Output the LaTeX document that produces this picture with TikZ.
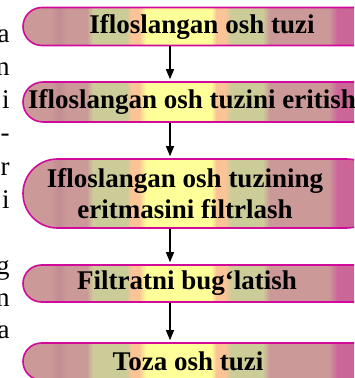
\documentclass[tikz,border=0pt]{standalone}
\usepackage{fontspec}
\setmainfont{Liberation Serif}
\usetikzlibrary{shapes.misc,arrows.meta}

\definecolor{boxrim}{RGB}{210,10,155}
\definecolor{mauve}{RGB}{204,153,153}
\definecolor{mauvedark}{RGB}{194,140,146}
\definecolor{sage}{RGB}{204,204,153}
\definecolor{peach}{RGB}{250,196,150}
\definecolor{lemon}{RGB}{255,255,153}
\definecolor{berry}{RGB}{204,102,153}

\pgfdeclarehorizontalshading{stripes}{100bp}{color(0bp)=(mauve); color(25bp)=(mauve);
 color(28.9bp)=(mauve); color(30bp)=(mauvedark); color(31.2bp)=(mauve);
 color(33.9bp)=(mauve); color(34.8bp)=(sage); color(39.5bp)=(sage);
 color(40.1bp)=(peach); color(41.2bp)=(peach); color(42.2bp)=(lemon);
 color(51.3bp)=(lemon); color(52bp)=(peach); color(53.2bp)=(peach);
 color(54.1bp)=(sage); color(58.5bp)=(sage); color(59.4bp)=(mauve);
 color(67.7bp)=(mauve); color(68.9bp)=(berry); color(100bp)=(berry)}

\tikzset{
 flowbox/.style={rounded rectangle,draw=boxrim,line width=0.8pt,shade,shading=stripes,
  minimum width=179pt,inner sep=0pt},
 flowtext/.style={font=\fontsize{13.5}{15.5}\selectfont\bfseries,align=center,inner sep=0pt},
 margintext/.style={font=\fontsize{13.5}{16}\selectfont,anchor=base east,inner sep=0pt},
 flowarrow/.style={-{Triangle[length=5pt,width=4pt]},line width=0.6pt,shorten >=1pt}
}

\begin{document}
\begin{tikzpicture}[x=0.5pt,y=-0.5pt]
\useasboundingbox (0,0) rectangle (354,378);
\clip (0,0) rectangle (354,378);
% cut-off letters of the page text on the left
\foreach \ch/\yb [count=\i] in {a/43,n/76,i/109,-/142,r/176,i/209,g/274,n/306,a/338}
  \node[margintext] (m\i) at (10,\yb) {\ch};
% boxes
\node[flowbox,minimum height=19pt] (b1) at (202,26.5) {};
\node[flowbox,minimum height=20pt] (b2) at (202,102) {};
\node[flowbox,minimum height=34.5pt] (b3) at (202,193.5) {};
\node[flowbox,minimum height=18.5pt] (b4) at (202,283.5) {};
\node[flowbox,minimum height=18.5pt] (b5) at (202,361.5) {};
\node[flowtext] (t1) at (202,26.5) {Ifloslangan osh tuzi};
\node[flowtext] (t2) at (192,102) {Ifloslangan osh tuzini eritish};
\node[flowtext] (t3) at (185,193.5) {Ifloslangan osh tuzining\\eritmasini filtrlash};
\node[flowtext] (t4) at (187,283.5) {Filtratni bug‘latish};
\node[flowtext] (t5) at (188,361.5) {Toza osh tuzi};
% arrows
\coordinate (axis) at (170,0);
\foreach \a/\b in {b1/b2,b2/b3,b3/b4,b4/b5}
  \draw[flowarrow] (\a.south -| axis) -- (\b.north -| axis);
\end{tikzpicture}
\end{document}
